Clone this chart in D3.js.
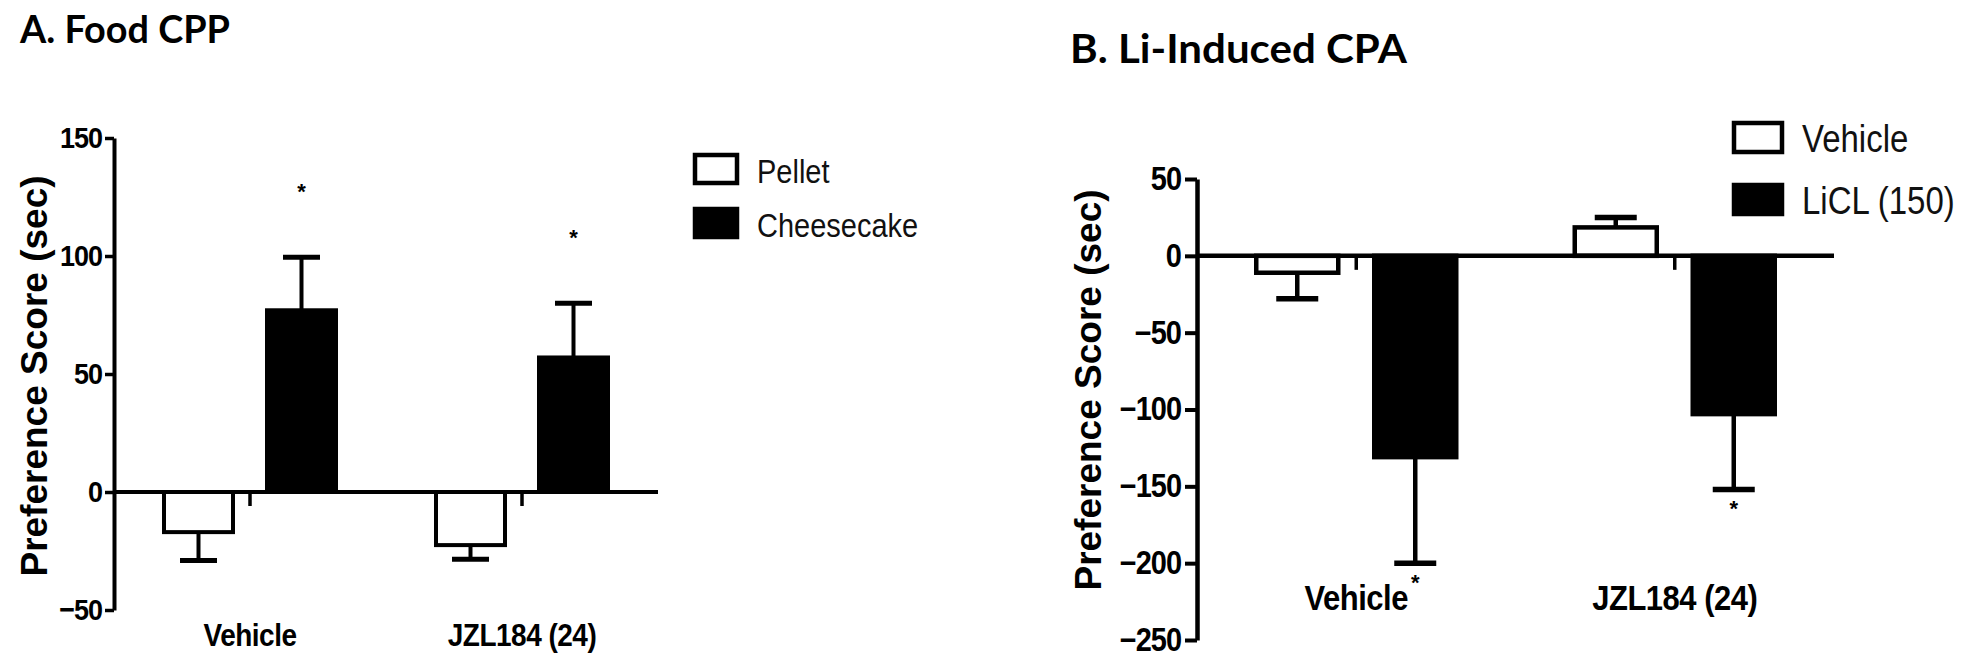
<!DOCTYPE html>
<html><head><meta charset="utf-8">
<script src="https://cdn.jsdelivr.net/npm/d3@7"></script>
<style>
html,body{margin:0;padding:0;background:#fff;}
svg{display:block;}
</style></head>
<body>
<svg id="chart" width="1980" height="665"></svg>
<script>
// ---------- data ----------
const groups = ["Vehicle", "JZL184 (24)"];

// Panel A: Food CPP
const seriesA = ["Pellet", "Cheesecake"];
const pelletMean = [-17, -22.5];
const pelletSEM = [12, 6];
const cheeseMean = [77, 57];
const cheeseSEM = [22.5, 23];
const cheeseSig = [true, true];
const pelletSig = [false, false];
const ticksA = [-50, 0, 50, 100, 150];

// Panel B: Li-Induced CPA
const seriesB = ["Vehicle", "LiCL (150)"];
const vehMean = [-11, 18.5];
const vehSEM = [17, 6.5];
const liclMean = [-131, -103];
const liclSEM = [69, 49];
const vehSig = [false, false];
const liclSig = [true, true];
const ticksB = [-250, -200, -150, -100, -50, 0, 50];

const yLabel = "Preference Score (sec)";
const titleA = "A. Food CPP";
const titleB = "B. Li-Induced CPA";

// ---------- drawing ----------
const svg = d3.select("#chart");
const FONT = "'Liberation Sans', Arial, Helvetica, sans-serif";
const TFONT = "Lato, 'Open Sans', sans-serif";

function panel(cfg) {
  const g = svg.append("g");
  const y = d3.scaleLinear().domain(cfg.yDomain).range(cfg.yRange);
  const x = d3.scalePoint().domain(groups).range(cfg.xRange).padding(0.5);
  const y0 = y(0);

  // bars
  cfg.series.forEach((s, si) => {
    const data = groups.map((gname, i) => ({g: gname, m: s.mean[i], e: s.sem[i], sig: s.sig[i]}));
    const off = si === 0 ? -cfg.gap - cfg.bw : cfg.gap;
    const bg = g.append("g");
    bg.selectAll("rect").data(data).join("rect")
      .attr("x", d => x(d.g) + off)
      .attr("width", cfg.bw)
      .attr("y", d => Math.min(y(d.m), y0))
      .attr("height", d => Math.abs(y(d.m) - y0))
      .attr("fill", s.fill)
      .attr("stroke", "#000")
      .attr("stroke-width", cfg.sw);
    // error bars (away from zero)
    const cx = d => x(d.g) + off + cfg.bw / 2;
    const tip = d => y(d.m + Math.sign(d.m) * d.e);
    bg.selectAll("line.stem").data(data).join("line").attr("class", "stem")
      .attr("x1", cx).attr("x2", cx)
      .attr("y1", d => y(d.m)).attr("y2", tip)
      .attr("stroke", "#000").attr("stroke-width", cfg.sw);
    bg.selectAll("line.cap").data(data).join("line").attr("class", "cap")
      .attr("x1", d => cx(d) - cfg.cap / 2).attr("x2", d => cx(d) + cfg.cap / 2)
      .attr("y1", tip).attr("y2", tip)
      .attr("stroke", "#000").attr("stroke-width", cfg.sw + 1);
    // significance asterisks
    bg.selectAll("text.sig").data(data.filter(d => d.sig)).join("text").attr("class", "sig")
      .attr("x", cx)
      .attr("y", d => tip(d) + (d.m > 0 ? -cfg.starOff : cfg.starOff))
      .attr("text-anchor", "middle")
      .attr("dominant-baseline", "central")
      .attr("font-family", FONT).attr("font-weight", "bold")
      .attr("font-size", 22)
      .text("*");
  });

  // zero line (x axis)
  g.append("line")
    .attr("x1", cfg.xRange[0]).attr("x2", cfg.xRange[1])
    .attr("y1", y0).attr("y2", y0)
    .attr("stroke", "#000").attr("stroke-width", cfg.sw);
  // group ticks
  g.selectAll("line.gt").data(groups).join("line").attr("class", "gt")
    .attr("x1", d => x(d)).attr("x2", d => x(d))
    .attr("y1", y0).attr("y2", y0 + 14)
    .attr("stroke", "#000").attr("stroke-width", 3.5);

  // y axis
  const ax = g.append("g")
    .attr("transform", `translate(${cfg.xRange[0]},0)`)
    .call(d3.axisLeft(y).tickValues(cfg.ticks).tickSize(cfg.tick).tickSizeOuter(0).tickPadding(cfg.tpad));
  ax.select(".domain").attr("stroke", "#000").attr("stroke-width", cfg.sw);
  ax.selectAll(".tick line").attr("stroke", "#000").attr("stroke-width", cfg.sw - 0.5);
  ax.selectAll(".tick text")
    .attr("font-family", FONT).attr("font-weight", "bold")
    .attr("font-size", cfg.tickFont).attr("fill", "#000")
    .attr("letter-spacing", -1)
    .attr("transform", "scale(1,1.12)");

  // y label
  g.append("text")
    .attr("transform", `translate(${cfg.ylabX},${cfg.ylabY}) rotate(-90)`)
    .attr("text-anchor", "middle").attr("dominant-baseline", "central")
    .attr("font-family", FONT).attr("font-weight", "bold")
    .attr("font-size", cfg.ylabFont).attr("fill", "#000")
    .text(yLabel);

  // category labels
  g.selectAll("text.cat").data(groups).join("text").attr("class", "cat")
    .attr("transform", d => `translate(${x(d)},${cfg.catY}) scale(1,1.15)`)
    .attr("text-anchor", "middle")
    .attr("font-family", FONT).attr("font-weight", "bold")
    .attr("font-size", cfg.catFont).attr("fill", "#000")
    .attr("letter-spacing", -0.5)
    .text(d => d);

  // title
  g.append("text")
    .attr("x", cfg.titleX).attr("y", cfg.titleY)
    .attr("font-family", TFONT).attr("font-weight", 700)
    .attr("font-size", cfg.titleFont).attr("fill", "#000")
    .attr("textLength", cfg.titleLen).attr("lengthAdjust", "spacingAndGlyphs")
    .text(cfg.title);

  // legend
  const lg = g.append("g");
  cfg.series.forEach((s, i) => {
    lg.append("rect")
      .attr("x", cfg.legX).attr("y", cfg.legY + i * cfg.legStep)
      .attr("width", cfg.legW).attr("height", cfg.legH)
      .attr("fill", s.fill).attr("stroke", "#000").attr("stroke-width", 4.5);
    lg.append("text")
      .attr("transform", `translate(${cfg.legX + cfg.legW + 20},${cfg.legY + i * cfg.legStep + cfg.legH}) scale(1,1.15)`)
      .attr("font-family", FONT)
      .attr("font-size", cfg.legFont).attr("fill", "#111")
      .text(s.name);
  });
}

panel({
  title: titleA, titleX: 20, titleY: 43, titleFont: 38, titleLen: 210,
  yDomain: [-50, 150], yRange: [610, 138], xRange: [114, 658],
  ticks: ticksA, tick: 9, tpad: 3, tickFont: 27,
  bw: 69, gap: 17, cap: 37, sw: 4, starOff: 66,
  ylabX: 34, ylabY: 376, ylabFont: 37,
  catY: 646, catFont: 28,
  legX: 695, legY: 155, legW: 42, legH: 28, legStep: 54, legFont: 29,
  series: [
    {name: seriesA[0], mean: pelletMean, sem: pelletSEM, sig: pelletSig, fill: "#fff"},
    {name: seriesA[1], mean: cheeseMean, sem: cheeseSEM, sig: cheeseSig, fill: "#000"}
  ]
});

panel({
  title: titleB, titleX: 1070, titleY: 63, titleFont: 41, titleLen: 337,
  yDomain: [-250, 50], yRange: [640, 179], xRange: [1197, 1834],
  ticks: ticksB, tick: 12, tpad: 4, tickFont: 29,
  bw: 82, gap: 18, cap: 42, sw: 4.5, starOff: 19,
  ylabX: 1088, ylabY: 390, ylabFont: 37,
  catY: 610, catFont: 31,
  legX: 1734, legY: 123, legW: 48, legH: 29, legStep: 62, legFont: 33,
  series: [
    {name: seriesB[0], mean: vehMean, sem: vehSEM, sig: vehSig, fill: "#fff"},
    {name: seriesB[1], mean: liclMean, sem: liclSEM, sig: liclSig, fill: "#000"}
  ]
});
</script>
</body></html>
